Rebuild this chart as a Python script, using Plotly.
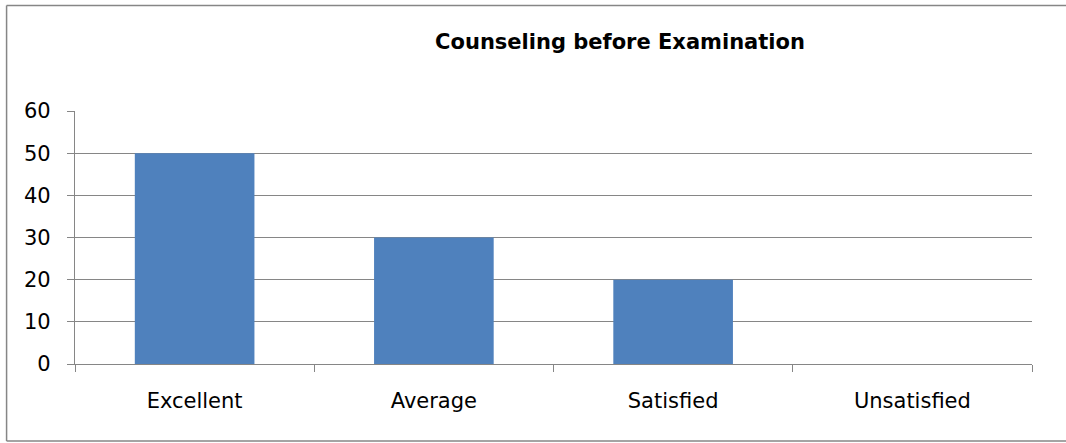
import plotly.graph_objects as go

categories = ["Excellent", "Average", "Satisfied", "Unsatisfied"]
values = [50, 30, 20, 0]
y_ticks = [0, 10, 20, 30, 40, 50, 60]

bar_color = "#4F81BD"
line_color = "#868686"
font_family = "'DejaVu Sans', sans-serif"

fig = go.Figure()
fig.add_trace(go.Bar(
    x=categories,
    y=values,
    marker=dict(color=bar_color, line=dict(width=0)),
    width=0.5,
))

# outer chart border: top, left and bottom (right edge falls outside the picture)
left, right, bottom, top = -0.0715, 1.1, -0.304, 1.417
border = dict(color=line_color, width=1.5)
fig.add_shape(type="line", xref="paper", yref="paper",
              x0=left, x1=right, y0=top, y1=top, line=border, layer="below")
fig.add_shape(type="line", xref="paper", yref="paper",
              x0=left, x1=right, y0=bottom, y1=bottom, line=border, layer="below")
fig.add_shape(type="line", xref="paper", yref="paper",
              x0=left, x1=left, y0=bottom, y1=top, line=border, layer="below")

fig.update_layout(
    width=1066,
    height=443,
    margin=dict(l=75, r=34, t=111, b=79),
    paper_bgcolor="white",
    plot_bgcolor="white",
    showlegend=False,
    font=dict(family=font_family, color="#000000", size=21),
    title=dict(
        text="<b>Counseling before Examination</b>",
        x=0.5695, xref="paper", xanchor="center",
        y=0.905, yref="container", yanchor="middle",
        font=dict(size=21, family=font_family, color="#000000"),
    ),
)

fig.update_xaxes(
    type="category",
    showline=True, linecolor=line_color, linewidth=1.2,
    ticks="outside", tickson="boundaries", ticklen=7,
    tickcolor=line_color, tickwidth=1.2,
    showgrid=False,
    ticklabelstandoff=18,
)

fig.update_yaxes(
    range=[0, 60],
    tickvals=y_ticks,
    showline=True, linecolor=line_color, linewidth=1.2,
    ticks="outside", ticklen=7, tickcolor=line_color, tickwidth=1.2,
    showgrid=True, gridcolor=line_color, gridwidth=1.2,
    zeroline=False,
    ticklabelstandoff=12,
)

# drop the page's default body margin so the figure sits at the window corner
fig.write_html(
    "out.html",
    config={"displayModeBar": False},
    post_script="document.body.style.margin = '0';",
)
